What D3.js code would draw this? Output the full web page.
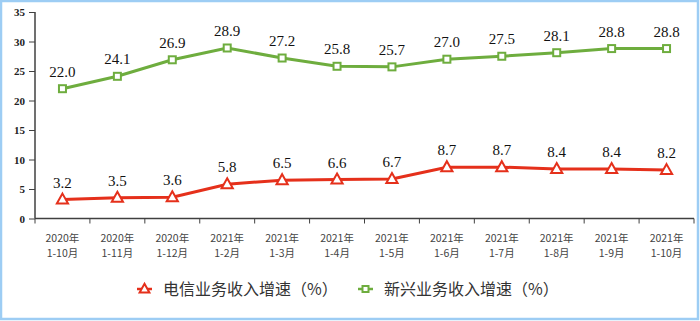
<!DOCTYPE html>
<html><head><meta charset="utf-8">
<script src="https://cdn.jsdelivr.net/npm/d3@7"></script>
<style>body{margin:0;background:#fff;}svg{display:block;}</style>
</head><body>
<svg id="c" width="700" height="321"></svg>
<script>
const categories = ["2020年|1-10月","2020年|1-11月","2020年|1-12月","2021年|1-2月","2021年|1-3月","2021年|1-4月","2021年|1-5月","2021年|1-6月","2021年|1-7月","2021年|1-8月","2021年|1-9月","2021年|1-10月"];
const telecom = [3.2,3.5,3.6,5.8,6.5,6.6,6.7,8.7,8.7,8.4,8.4,8.2];
const emerging = [22.0,24.1,26.9,28.9,27.2,25.8,25.7,27.0,27.5,28.1,28.8,28.8];
const yTicks = [0,5,10,15,20,25,30,35];
const seriesNames = ["电信业务收入增速（%）","新兴业务收入增速（%）"];
const red = "#E5301B", green = "#6EAD3E";
const serif = "'Liberation Serif','Times New Roman',serif";

const svg = d3.select("#c");
svg.append("rect").attr("x",1).attr("y",1).attr("width",697).attr("height",318)
  .attr("fill","#fff").attr("stroke","#9DCDF4").attr("stroke-width",2.5);

const x = d3.scaleBand().domain(categories).range([35,694]);
const y = d3.scaleLinear().domain([0,35]).range([218.5,12]);

// y axis
const ya = svg.append("g").attr("transform","translate(35,0)")
  .call(d3.axisLeft(y).tickValues(yTicks).tickSize(6).tickPadding(4));
ya.select(".domain").attr("stroke","#404040").attr("stroke-width",1.5).attr("d","M0,12V218.5");
ya.selectAll(".tick line").attr("stroke","#404040").attr("stroke-width",1);
ya.selectAll("text").style("font-family",serif).style("font-size","11px")
  .style("font-weight","bold").attr("fill","#222");

// x axis
const xa = svg.append("g").attr("transform","translate(0,218.5)");
xa.append("line").attr("x1",35).attr("x2",694).attr("stroke","#404040").attr("stroke-width",1.5);
const bounds = categories.map(c=>x(c)).concat([x.range()[1]]);
xa.selectAll("line.t").data(bounds).enter().append("line").attr("class","t")
  .attr("x1",d=>d).attr("x2",d=>d).attr("y1",0).attr("y2",5).attr("stroke","#404040");
const xl = xa.selectAll("text.c").data(categories).enter().append("text").attr("class","c")
  .attr("x",d=>x(d)+x.bandwidth()/2).attr("text-anchor","middle")
  .style("font-family","'Noto Sans CJK SC',sans-serif").style("font-size","10.5px").attr("fill","#444");
xl.append("tspan").attr("x",d=>x(d)+x.bandwidth()/2).attr("y",23).text(d=>d.split("|")[0]);
xl.append("tspan").attr("x",d=>x(d)+x.bandwidth()/2).attr("y",38).text(d=>d.split("|")[1]);

const cx = (d,i)=>x(categories[i])+x.bandwidth()/2;
const line = d3.line().x(cx).y(d=>y(d));

function triPath(s){ return `M0,${-s*0.75}L${s*0.7},${s*0.5}L${-s*0.7},${s*0.5}Z`; }

function drawSeries(data,color,marker){
  svg.append("path").datum(data).attr("d",line).attr("fill","none")
    .attr("stroke",color).attr("stroke-width",3);
  const g = svg.append("g");
  data.forEach((d,i)=>{
    const px = cx(d,i), py = y(d);
    if(marker==="sq"){
      g.append("rect").attr("x",px-3.5).attr("y",py-3.5).attr("width",7).attr("height",7)
        .attr("fill","#fff").attr("stroke",color).attr("stroke-width",2);
    } else {
      g.append("path").attr("d",triPath(8)).attr("transform",`translate(${px},${py})`)
        .attr("fill","#fff").attr("stroke",color).attr("stroke-width",2);
    }
    g.append("text").attr("x",px).attr("y",py-12).attr("text-anchor","middle")
      .style("font-family",serif).style("font-size","15px").attr("fill","#111")
      .text(d.toFixed(1));
  });
}
drawSeries(emerging,green,"sq");
drawSeries(telecom,red,"tri");

// legend
const leg = [{name:seriesNames[0],color:red,m:"tri",x:137},{name:seriesNames[1],color:green,m:"sq",x:358}];
leg.forEach(l=>{
  const g = svg.append("g").attr("transform",`translate(${l.x},289)`);
  g.append("line").attr("x1",0).attr("x2",15).attr("stroke",l.color).attr("stroke-width",2.5);
  if(l.m==="tri") g.append("path").attr("d",triPath(7)).attr("transform","translate(7.5,0)")
      .attr("fill","#fff").attr("stroke",l.color).attr("stroke-width",2);
  else g.append("rect").attr("x",4.5).attr("y",-3).attr("width",6).attr("height",6)
      .attr("fill","#fff").attr("stroke",l.color).attr("stroke-width",2);
  g.append("text").attr("x",26).attr("y",6).style("font-family","'Noto Sans CJK SC',sans-serif")
    .style("font-size","16px").attr("fill","#333").text(l.name);
});
</script>
</body></html>
